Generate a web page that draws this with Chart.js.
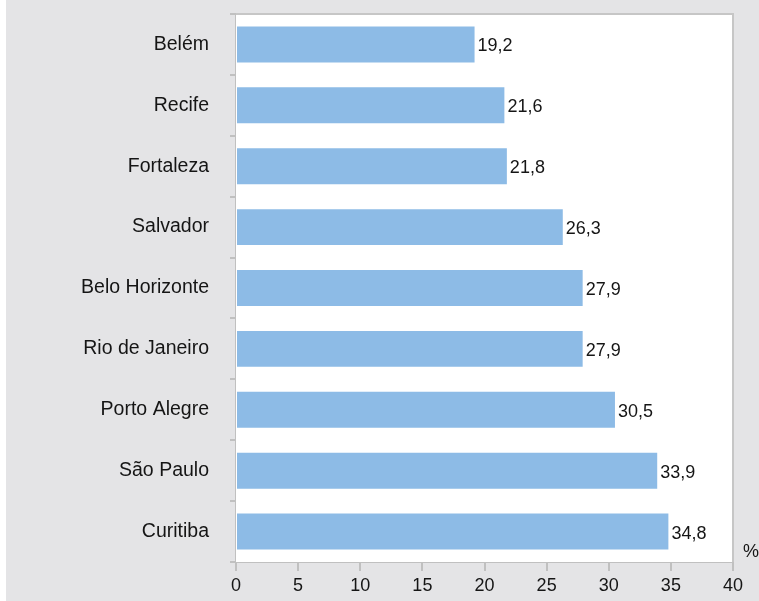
<!DOCTYPE html>
<html>
<head>
<meta charset="utf-8">
<script src="https://cdn.jsdelivr.net/npm/chart.js@4"></script>
<style>
  html, body { margin: 0; padding: 0; background: #ffffff; }
  #wrap { position: absolute; left: 6px; top: 0; width: 753px; height: 601px; background: #e4e4e6; }
  #c { position: absolute; left: -6px; top: 0; }
</style>
</head>
<body>
<div id="wrap"><canvas id="c" width="759" height="601"></canvas></div>
<script>
const categories = ["Belém", "Recife", "Fortaleza", "Salvador", "Belo Horizonte", "Rio de Janeiro", "Porto Alegre", "São Paulo", "Curitiba"];
const values = [19.2, 21.6, 21.8, 26.3, 27.9, 27.9, 30.5, 33.9, 34.8];
const xTicks = [0, 5, 10, 15, 20, 25, 30, 35, 40];
const unitLabel = "%";

const FONT = "'Liberation Sans', Arial, Helvetica, sans-serif";
const AXIS = '#c0c0c0';

const plotFrame = {
  id: 'plotFrame',
  beforeDatasetsDraw(chart) {
    const { ctx, chartArea: a } = chart;
    ctx.save();
    ctx.fillStyle = '#ffffff';
    ctx.fillRect(a.left, a.top, a.right - a.left, a.bottom - a.top);
    ctx.strokeStyle = '#c6c6c6';
    ctx.lineWidth = 2;
    ctx.beginPath();
    ctx.moveTo(a.left, a.top);
    ctx.lineTo(a.right, a.top);
    ctx.lineTo(a.right, a.bottom);
    ctx.stroke();
    ctx.restore();
  },
  afterDatasetsDraw(chart) {
    const { ctx, chartArea: a } = chart;
    const meta = chart.getDatasetMeta(0);
    ctx.save();
    ctx.font = "18px " + FONT;
    ctx.fillStyle = '#151515';
    ctx.textBaseline = 'middle';
    ctx.textAlign = 'left';
    meta.data.forEach((bar, i) => {
      const v = chart.data.datasets[0].data[i];
      ctx.fillText(v.toFixed(1).replace('.', ','), bar.x + 3, bar.y + 2);
    });
    ctx.fillText(unitLabel, a.right + 10, a.bottom - 10);
    ctx.restore();
  }
};

new Chart(document.getElementById('c'), {
  type: 'bar',
  data: {
    labels: categories,
    datasets: [{
      data: values,
      backgroundColor: '#8dbbe6',
      borderWidth: 0,
      barPercentage: 0.59,
      categoryPercentage: 1.0
    }]
  },
  options: {
    indexAxis: 'y',
    responsive: false,
    animation: false,
    devicePixelRatio: 1,
    layout: { padding: { top: 14, right: 26, left: 0, bottom: 0 } },
    plugins: { legend: { display: false }, tooltip: { enabled: false } },
    scales: {
      x: {
        type: 'linear',
        min: 0, max: 40,
        afterBuildTicks(scale) { scale.ticks = xTicks.map(v => ({ value: v })); },
        afterFit(scale) { scale.height = 39; scale.paddingLeft = 0; scale.paddingRight = 0; },
        grid: { drawOnChartArea: false, drawTicks: true, tickLength: 9, color: AXIS, lineWidth: 2 },
        border: { display: true, color: AXIS, width: 2 },
        ticks: { color: '#151515', font: { family: FONT, size: 18 }, padding: 4, maxRotation: 0 }
      },
      y: {
        type: 'category',
        offset: true,
        afterFit(scale) { scale.width = 236; scale.paddingTop = 0; scale.paddingBottom = 0; },
        grid: { offset: true, drawOnChartArea: false, drawTicks: true, tickLength: 6, color: AXIS, lineWidth: 2 },
        border: { display: true, color: AXIS, width: 2 },
        ticks: { color: '#151515', font: { family: FONT, size: 19.5 }, padding: 21 }
      }
    }
  },
  plugins: [plotFrame]
});
</script>
</body>
</html>
